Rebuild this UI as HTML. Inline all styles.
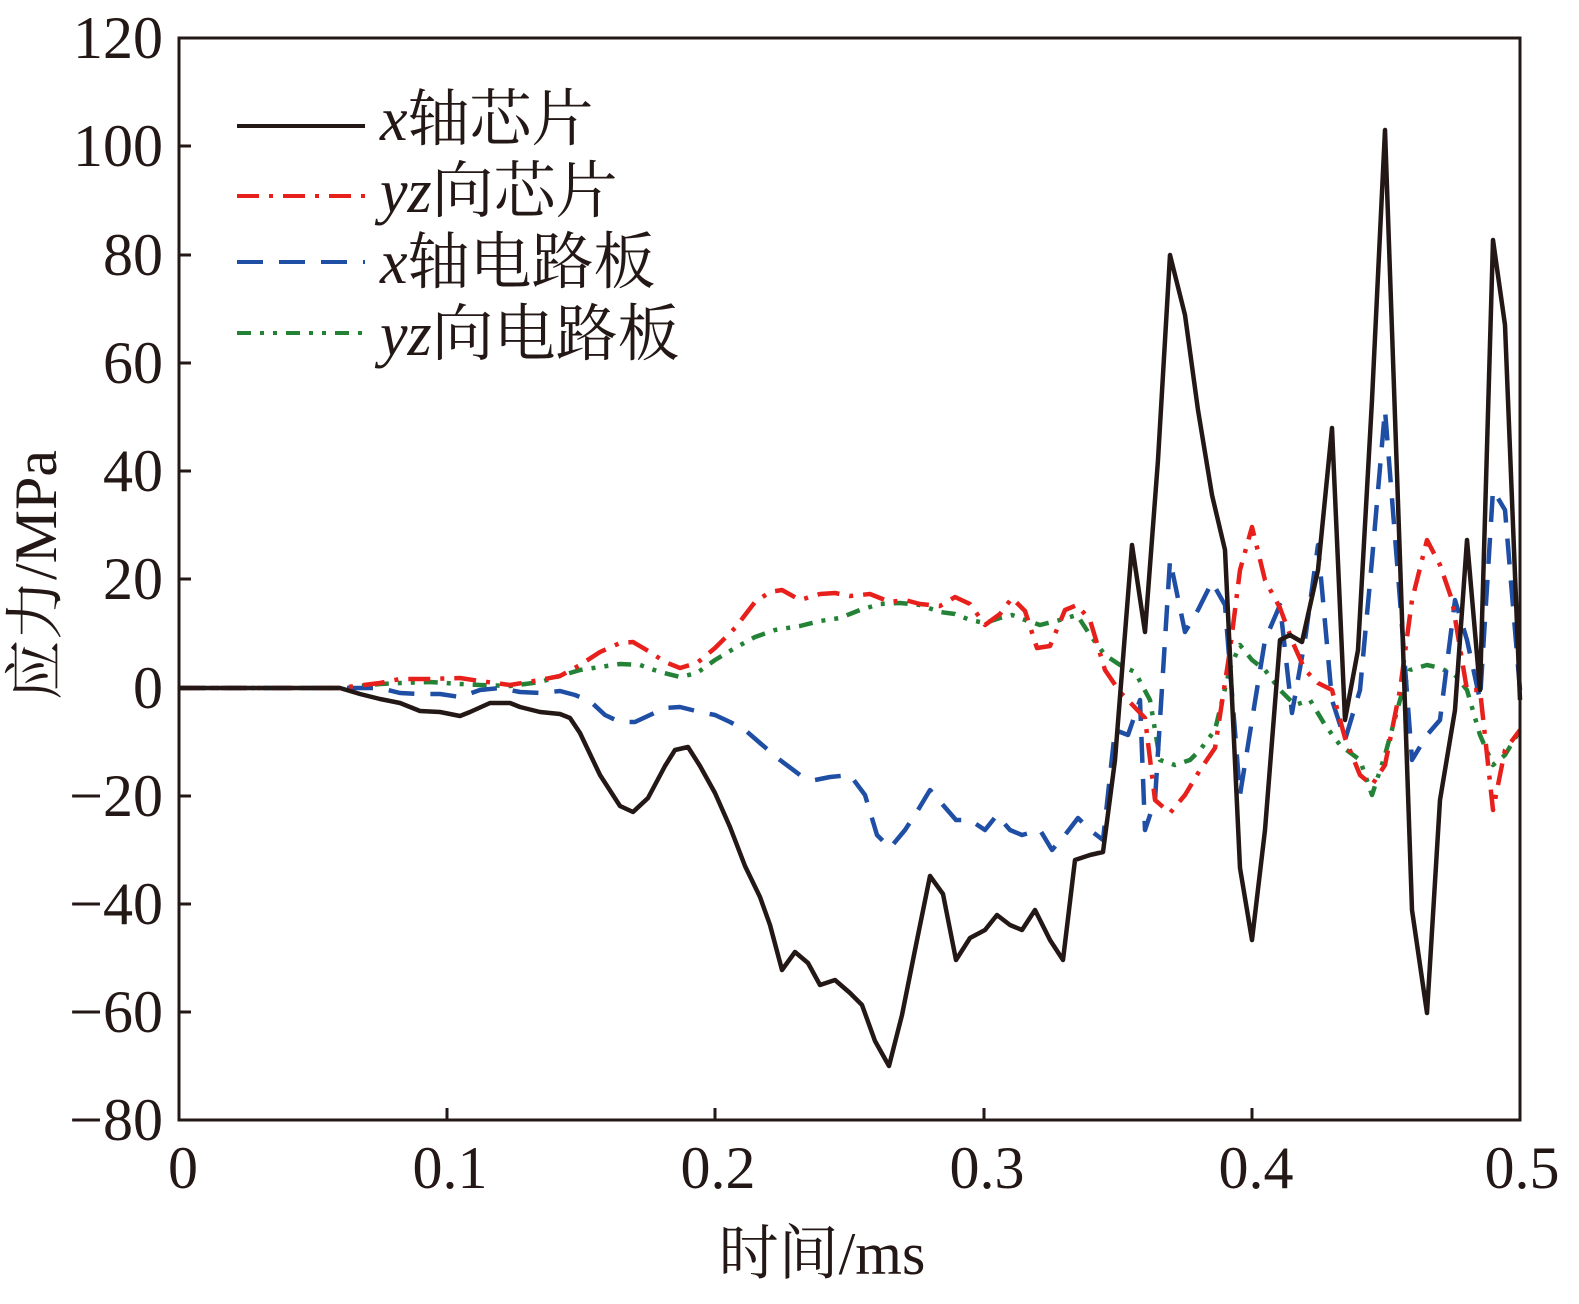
<!DOCTYPE html>
<html><head><meta charset="utf-8"><style>body{margin:0;background:#fff}svg{display:block}</style></head><body>
<svg width="1579" height="1304" viewBox="0 0 1579 1304" xmlns="http://www.w3.org/2000/svg" font-family="'Liberation Serif','Noto Serif CJK SC',serif">
<rect width="1579" height="1304" fill="#fff"/>
<g fill="none" stroke-width="4.5" stroke-linejoin="round">
<polyline stroke="#238236" stroke-dasharray="14,9,4,9,4,9" points="179,688 340,688 360,686 380,684 400,683 430,682 460,684 480,685 510,686 540,682 560,676 580,670 600,667 620,664 640,665 660,672 680,677 697,673 715,660 735,648 755,637 775,630 800,626 820,621 840,618 860,610 880,604 900,603 920,605 940,612 955,614 970,620 985,623 1000,618 1012,615 1025,620 1040,625 1060,620 1077,615 1090,635 1105,655 1120,665 1135,672 1150,700 1160,760 1175,765 1190,760 1200,750 1215,730 1230,668 1240,645 1252,660 1265,670 1280,690 1295,705 1310,700 1325,725 1340,745 1360,760 1372,795 1385,755 1400,700 1410,670 1427,665 1440,668 1455,675 1467,690 1480,735 1493,765 1505,755 1520,730"/>
<polyline stroke="#1f4ea5" stroke-dasharray="26,16" points="179,688 360,688 380,688 400,693 420,694 440,694 460,697 480,690 500,688 520,692 540,693 560,691 575,695 590,701 605,715 620,722 635,722 650,715 665,708 680,707 700,712 715,715 730,722 745,730 760,743 780,760 800,775 815,780 830,777 850,775 865,795 877,835 890,848 905,830 918,810 930,790 943,805 956,820 970,820 985,830 997,815 1010,830 1022,835 1040,830 1052,850 1065,835 1078,818 1090,830 1103,840 1115,730 1128,735 1140,700 1145,830 1155,800 1170,560 1185,632 1198,610 1212,582 1225,605 1240,795 1252,720 1265,640 1280,605 1292,713 1305,640 1318,545 1332,700 1345,740 1360,690 1372,560 1385,410 1400,600 1412,760 1427,735 1440,720 1455,600 1467,640 1480,700 1493,490 1505,510 1520,690"/>
<polyline stroke="#e8201c" stroke-dasharray="22,10,4,10" points="179,688 340,688 380,683 400,679 430,679 460,678 480,681 510,685 540,680 560,676 580,665 600,652 620,643 633,642 650,652 665,662 680,668 697,663 715,648 735,628 755,602 770,592 782,590 800,600 820,594 835,593 850,596 870,594 890,602 905,600 920,604 940,606 955,597 970,604 985,625 1000,614 1012,598 1025,611 1037,648 1050,646 1065,610 1077,605 1090,620 1105,670 1120,692 1145,718 1155,800 1170,813 1185,795 1200,770 1215,748 1230,650 1240,570 1252,527 1265,580 1280,608 1293,643 1305,670 1318,683 1332,690 1345,738 1360,775 1372,785 1385,765 1400,690 1412,600 1427,540 1440,565 1452,600 1467,690 1480,690 1493,810 1505,750 1520,730"/>
<polyline stroke="#231815" points="179,688 340,688 360,694 380,699 400,703 420,711 440,712 460,716 470,712 490,703 510,703 520,707 540,712 560,714 570,718 580,733 600,775 620,806 633,812 648,798 665,766 675,750 688,747 700,766 715,793 730,827 745,866 760,897 770,925 782,970 795,952 808,963 820,985 835,980 850,993 862,1005 875,1041 889,1066 902,1015 915,950 930,876 943,894 956,960 970,938 985,930 997,915 1010,925 1022,930 1035,910 1050,940 1063,960 1075,860 1090,855 1103,852 1115,760 1132,545 1145,632 1158,460 1170,255 1185,315 1198,410 1212,495 1225,550 1240,868 1252,940 1265,830 1280,640 1290,635 1302,642 1318,570 1332,428 1345,720 1358,650 1372,400 1385,130 1400,560 1412,910 1427,1013 1440,800 1455,710 1467,540 1480,690 1493,240 1505,325 1520,700"/>
</g>
<rect x="179" y="38" width="1341" height="1082" fill="none" stroke="#231815" stroke-width="3"/>
<g stroke="#231815" stroke-width="3">
<line x1="447" y1="1120" x2="447" y2="1108"/><line x1="715" y1="1120" x2="715" y2="1108"/><line x1="984" y1="1120" x2="984" y2="1108"/><line x1="1252" y1="1120" x2="1252" y2="1108"/>
<line x1="179" y1="146" x2="191" y2="146"/><line x1="179" y1="255" x2="191" y2="255"/><line x1="179" y1="363" x2="191" y2="363"/><line x1="179" y1="471" x2="191" y2="471"/><line x1="179" y1="579" x2="191" y2="579"/><line x1="179" y1="688" x2="191" y2="688"/><line x1="179" y1="796" x2="191" y2="796"/><line x1="179" y1="904" x2="191" y2="904"/><line x1="179" y1="1012" x2="191" y2="1012"/>
</g>
<g font-size="60" fill="#231815" text-anchor="end">
<text x="163" y="58">120</text><text x="163" y="166">100</text><text x="163" y="275">80</text><text x="163" y="383">60</text><text x="163" y="491">40</text><text x="163" y="599">20</text><text x="163" y="708">0</text><text x="163" y="816">−20</text><text x="163" y="924">−40</text><text x="163" y="1032">−60</text><text x="163" y="1140">−80</text>
</g>
<g font-size="60" fill="#231815" text-anchor="middle">
<text x="183" y="1188">0</text><text x="450" y="1188">0.1</text><text x="718" y="1188">0.2</text><text x="987" y="1188">0.3</text><text x="1256" y="1188">0.4</text><text x="1522" y="1188">0.5</text>
<text x="822" y="1274" font-size="60">时间/ms</text>
<text transform="translate(56,575) rotate(-90)" font-size="60">应力/MPa</text>
</g>
<g stroke-width="4" fill="none">
<line x1="237" y1="126" x2="365" y2="126" stroke="#231815"/>
<line x1="237" y1="196" x2="365" y2="196" stroke="#e8201c" stroke-dasharray="22,10,4,10"/>
<line x1="237" y1="262" x2="365" y2="262" stroke="#1f4ea5" stroke-dasharray="26,16"/>
<line x1="237" y1="333" x2="365" y2="333" stroke="#238236" stroke-dasharray="14,9,4,9,4,9"/>
</g>
<g font-size="62" fill="#231815">
<text x="380" y="140"><tspan font-style="italic">x</tspan>轴芯片</text>
<text x="380" y="212"><tspan font-style="italic">yz</tspan>向芯片</text>
<text x="380" y="283"><tspan font-style="italic">x</tspan>轴电路板</text>
<text x="380" y="355"><tspan font-style="italic">yz</tspan>向电路板</text>
</g>
</svg>
</body></html>
